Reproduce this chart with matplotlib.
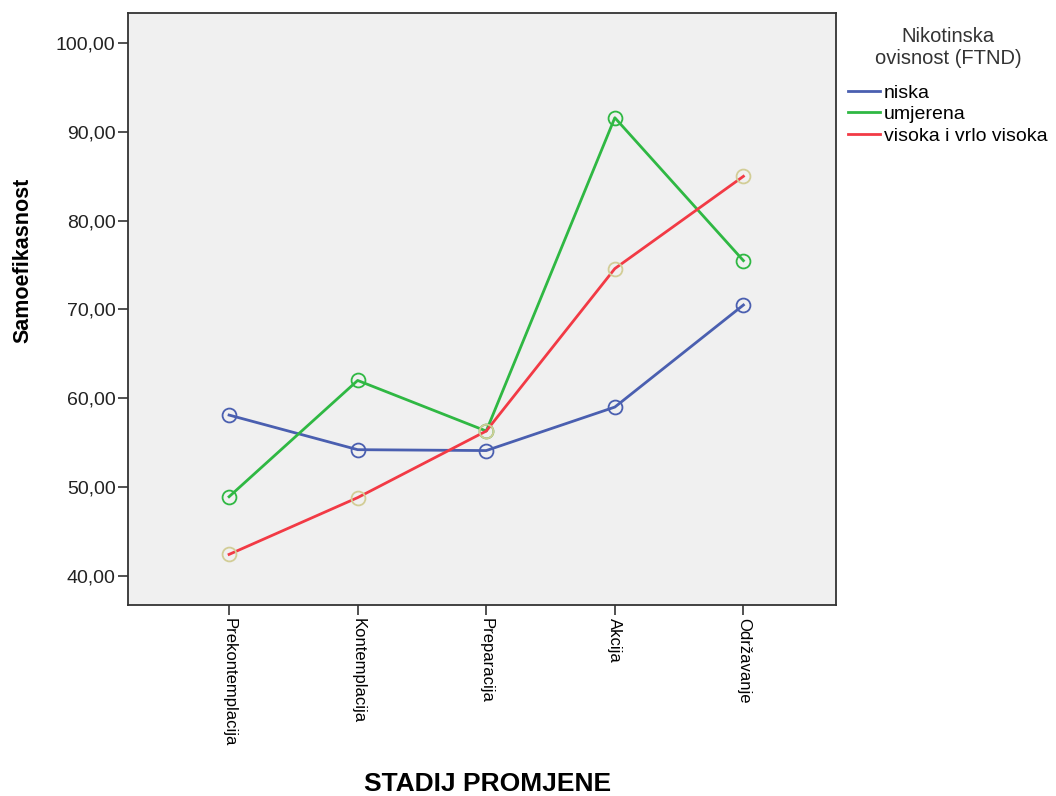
import matplotlib.pyplot as plt

# podaci
stadiji = ['Prekontemplacija', 'Kontemplacija', 'Preparacija', 'Akcija', 'Održavanje']
niska = [58.1, 54.2, 54.1, 59.0, 70.5]
umjerena = [48.9, 62.0, 56.3, 91.6, 75.5]
visoka = [42.4, 48.8, 56.3, 74.6, 85.0]
y_ticks = [40, 50, 60, 70, 80, 90, 100]

plt.rcParams['font.family'] = ['Liberation Sans', 'DejaVu Sans']

fig = plt.figure(figsize=(10.56, 7.96), dpi=100)
ax = fig.add_axes([128 / 1056, 1 - 605 / 796, 708 / 1056, 592 / 796])
ax.set_facecolor('#f0f0f0')

x = range(len(stadiji))
ax.plot(x, niska, color='#4a5fb0', linewidth=2, marker='o', markersize=10,
        markerfacecolor='none', markeredgecolor='#4a5fb0', markeredgewidth=1.3, label='niska')
ax.plot(x, umjerena, color='#2fb843', linewidth=2, marker='o', markersize=10,
        markerfacecolor='none', markeredgecolor='#2fb843', markeredgewidth=1.3, label='umjerena')
ax.plot(x, visoka, color='#f23a45', linewidth=2, marker='o', markersize=10,
        markerfacecolor='none', markeredgecolor='#d2cd96', markeredgewidth=1.3,
        label='visoka i vrlo visoka')

ax.set_xlim(-0.786, 4.72)
ax.set_ylim(36.7, 103.4)
ax.set_yticks(y_ticks)
ax.set_yticklabels(['%d,00' % v for v in y_ticks], fontsize=14, color='#222222')
ax.set_xticks(list(x))
ax.set_xticklabels(stadiji, rotation=270, fontsize=12, va='top', ha='center')
ax.tick_params(length=7, width=1.2, color='#333333', pad=2)
for s in ax.spines.values():
    s.set_color('#333333')
    s.set_linewidth(1.3)

# naslovi osi
fig.text(23 / 1056, 1 - 260 / 796, 'Samoefikasnost', fontsize=15.5, fontweight='bold',
         rotation=90, ha='center', va='center')
fig.text(488 / 1056, 1 - 784 / 796, 'STADIJ PROMJENE', fontsize=19, fontweight='bold',
         ha='center', va='center')

# legenda
fig.text(948 / 1056, 1 - 48 / 796, 'Nikotinska\novisnost (FTND)', fontsize=14.5,
         color='#333333', ha='center', va='center', multialignment='center',
         linespacing=1.2)
leg = ax.legend(loc='upper left', bbox_to_anchor=(848 / 1056, 1 - 84 / 796),
                bbox_transform=fig.transFigure, frameon=False, fontsize=14,
                handlelength=1.65, handletextpad=0.2, borderaxespad=0, borderpad=0,
                labelspacing=0.2)
for h in leg.legend_handles:
    h.set_marker('')

plt.savefig('out.png', dpi=100)
